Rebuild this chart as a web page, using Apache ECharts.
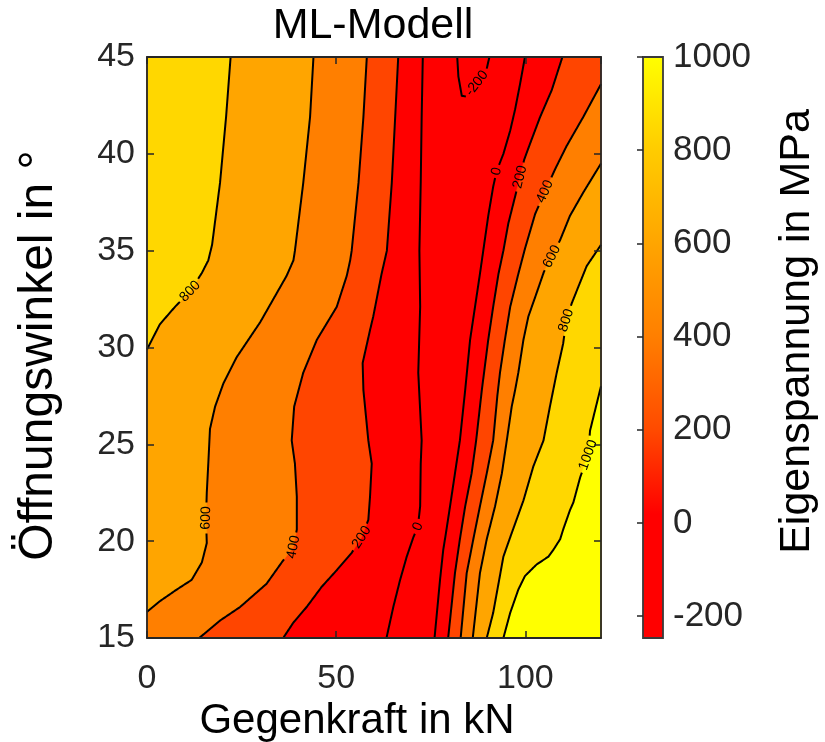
<!DOCTYPE html>
<html>
<head>
<meta charset="utf-8">
<script src="https://cdn.jsdelivr.net/npm/echarts@6/dist/echarts.min.js"></script>
<style>
  html, body { margin: 0; padding: 0; background: #fff; }
  #chart { width: 825px; height: 742px; }
</style>
</head>
<body>
<div id="chart"></div>
<script>
// contour lines as [Gegenkraft in kN, Öffnungswinkel in °]
const c800L = [[22.1,45],[20.9,41.9],[19.3,38.5],[17.2,35.3],[16.2,34.5],[14.5,33.85],[11.4,32.9],[7.4,32.1],[3.4,31.2],[0,29.9]];
const c600L = [[44.0,45],[43.1,41.9],[41.3,38.5],[39.1,35.0],[38.7,34.5],[36.9,33.7],[29.9,31.3],[23.7,29.5],[20.2,28.15],[18.0,26.95],[16.65,25.8],[16.2,24.0],[15.8,22.5],[15.6,21.2],[15.8,19.9],[14.5,18.9],[11.8,18.0],[7.85,17.5],[3.4,16.9],[0,16.35]];
const c400L = [[58.1,45],[57.2,41.9],[55.9,38.5],[54.1,35.0],[53.7,34.5],[52.8,33.7],[50.15,32.1],[44.9,30.4],[41.3,28.7],[38.9,26.95],[38.25,25.2],[39.1,24.0],[39.6,22.3],[39.6,20.6],[38.7,19.7],[35.6,18.9],[31.6,17.8],[24.6,16.6],[19.3,15.9],[13.8,15]];
const c200L = [[66.4,45],[65.6,41.9],[64.7,38.5],[63.4,35.0],[62.0,33.8],[59.8,31.6],[58.95,30.9],[57.0,29.2],[57.2,27.8],[58.5,25.2],[59.4,24.0],[58.95,22.3],[58.5,21.1],[56.75,20.2],[54.1,19.4],[50.15,18.5],[46.2,17.65],[42.2,16.6],[38.7,15.8],[36.0,15]];
const c0L = [[72.9,45],[72.6,41.9],[72.35,38.5],[72.0,35.0],[72.2,32.1],[71.7,28.7],[72.6,25.2],[72.35,24.0],[72.2,21.8],[71.6,20.75],[70.4,20.2],[68.65,19.2],[66.9,18.0],[65.1,16.6],[63.3,15]];
const cM200 = [[82.0,45],[82.3,44.0],[83.2,43.0],[84.5,42.95],[87.2,43.64],[89.8,44.4],[90.5,45]];
const c0R = [[99.9,45],[98.6,43.6],[97.3,42.3],[96.0,41.2],[94.2,40.0],[92.4,39.1],[91.5,38.3],[90.2,36.8],[89.1,35.3],[88.0,33.8],[86.7,32.1],[85.4,30.4],[84.1,27.8],[82.7,25.2],[81.4,23.5],[80.1,21.8],[79.0,20.4],[78.3,19.55],[77.45,18.0],[76.0,15]];
const c200R = [[109.8,45],[107.0,43.3],[103.9,41.9],[101.2,40.5],[99.7,39.7],[98.6,38.8],[97.3,37.8],[95.5,36.4],[94.2,35.0],[92.9,33.8],[91.5,32.1],[90.2,30.4],[88.5,27.8],[87.0,25.2],[85.8,23.5],[84.1,21.8],[82.7,20.1],[81.4,18.35],[79.6,15]];
const c400R = [[120,43.6],[115.3,41.9],[110.9,40.4],[107.85,39.2],[105.2,38.05],[102.6,36.9],[100.8,35.7],[99.9,35.1],[98.15,33.8],[96.0,32.1],[94.6,30.4],[93.3,28.7],[92.6,27.5],[91.5,25.2],[89.8,23.5],[88.0,21.8],[86.25,20.1],[84.5,18.35],[82.9,15]];
const c600R = [[120,39.5],[115.3,38.0],[111.8,36.8],[109.2,35.55],[107.0,34.7],[104.9,33.9],[102.6,32.6],[100.8,31.6],[99.5,30.4],[98.15,28.7],[97.3,27.8],[96.4,26.95],[95.1,25.2],[93.8,23.5],[92.0,21.8],[89.8,20.1],[88.0,18.35],[86.1,15]];
const c800R = [[120,35.3],[116.2,34.2],[112.3,32.3],[110.8,31.4],[110.0,30.2],[108.3,28.7],[106.5,26.95],[104.8,25.2],[102.1,23.85],[99.5,22.1],[96.0,20.2],[94.2,19.2],[92.9,17.8],[91.5,16.3],[89.8,15]];
const c1000R = [[120,28.0],[117.1,25.7],[116.6,24.45],[114.5,23.3],[112.7,22.0],[111.8,21.6],[110.0,20.6],[109.2,20.1],[107.4,19.55],[106.1,19.2],[103.0,18.8],[99.9,18.2],[98.15,17.5],[96.0,16.3],[94.2,15]];

const allLines = [c800L, c600L, c400L, c200L, c0L, cM200, c0R, c200R, c400R, c600R, c800R, c1000R];

// contour labels
const labelTexts = ['800', '600', '400', '200', '0', '-200', '0', '200', '400', '600', '800', '1000'];
const labelLines = [c800L, c600L, c400L, c200L, c0L, cM200, c0R, c200R, c400R, c600R, c800R, c1000R];
const labelAt = [[11.4,32.9],[15.6,21.2],[38.7,19.7],[56.75,20.2],[71.6,20.75],[87.2,43.64],[92.4,39.1],[98.6,38.8],[105.2,38.05],[107.0,34.7],[110.8,31.4],[116.6,24.45]];

// colorbar
const cbMin = -247, cbMax = 1000;
const cbTicks = [-200, 0, 200, 400, 600, 800, 1000];

const RED = '#ff0000', ORANGERED = '#ff4500', DARKORANGE = '#ff7f00',
      ORANGE = '#ffa500', GOLD = '#ffd700', YELLOW = '#ffff00';

// filled regions, painted from low to high level
const fills = [
    {pts: [[0,15],[120,15],[120,45],[0,45]], color: RED},
    {pts: c200L.concat([[0,15],[0,45]]), color: ORANGERED},
    {pts: c400L.concat([[0,15],[0,45]]), color: DARKORANGE},
    {pts: c600L.concat([[0,45]]), color: ORANGE},
    {pts: c800L.concat([[0,45]]), color: GOLD},
    {pts: c200R.concat([[120,15],[120,45]]), color: ORANGERED},
    {pts: c400R.concat([[120,15]]), color: DARKORANGE},
    {pts: c600R.concat([[120,15]]), color: ORANGE},
    {pts: c800R.concat([[120,15]]), color: GOLD},
    {pts: c1000R.concat([[120,15]]), color: YELLOW},
];

const FONT = '"Liberation Sans", Arial, Helvetica, sans-serif';
const AXIS_COLOR = '#262626';
const LABEL_SIZE = 14;

function cbOff(v) { return (v - cbMin) / (cbMax - cbMin); }

function labelAngle(api, line, at) {
    const p = api.coord(at);
    let best = Infinity, ang = 0;
    for (let i = 0; i < line.length - 1; i++) {
        const a = api.coord(line[i]), b = api.coord(line[i + 1]);
        const mx = (a[0] + b[0]) / 2, my = (a[1] + b[1]) / 2;
        const d = Math.hypot(mx - p[0], my - p[1]);
        if (d < best) {
            best = d;
            ang = Math.atan2(-(b[1] - a[1]), b[0] - a[0]);
        }
    }
    if (ang > Math.PI / 2) ang -= Math.PI;
    if (ang <= -Math.PI / 2) ang += Math.PI;
    return ang;
}

// width of a label, roughly, for the gap in the line
function labelHalf(t) {
    let w = 0;
    for (const ch of t) w += (ch === '-' ? 0.333 : 0.556) * LABEL_SIZE;
    return w / 2 + 3;
}

// cut the pixel polyline where labels sit
function splitLine(px, holes) {
    const out = [];
    let cur = [];
    for (let i = 0; i < px.length - 1; i++) {
        const a = px[i], b = px[i + 1];
        const n = Math.max(1, Math.ceil(Math.hypot(b[0] - a[0], b[1] - a[1])));
        for (let k = (i === 0 ? 0 : 1); k <= n; k++) {
            const t = k / n;
            const p = [a[0] + (b[0] - a[0]) * t, a[1] + (b[1] - a[1]) * t];
            const inside = holes.some(h => Math.hypot(p[0] - h.c[0], p[1] - h.c[1]) < h.r);
            if (inside) {
                if (cur.length > 1) out.push(cur);
                cur = [];
            } else {
                cur.push(p);
            }
        }
    }
    if (cur.length > 1) out.push(cur);
    return out;
}

const axisCommon = {
    axisLine: {show: true, onZero: false, lineStyle: {color: AXIS_COLOR, width: 1.8}},
    axisTick: {show: true, inside: true, length: 7, lineStyle: {color: AXIS_COLOR, width: 1.5}},
    splitLine: {show: false},
    z: 10,
};

const chart = echarts.init(document.getElementById('chart'), null, {renderer: 'canvas'});

const option = {
    animation: false,
    backgroundColor: '#fff',
    title: {
        text: 'ML-Modell',
        left: 368, top: 0, textAlign: 'center',
        textStyle: {fontFamily: FONT, fontSize: 43, fontWeight: 'normal', color: '#000'}
    },
    grid: [
        {left: 147, top: 57, width: 454, height: 581, outerBoundsMode: 'none'},
        {left: 643, top: 57, width: 20, height: 581, outerBoundsMode: 'none'},
    ],
    xAxis: [
        Object.assign({}, axisCommon, {
            gridIndex: 0, type: 'value', min: 0, max: 120, interval: 50,
            axisLabel: {fontFamily: FONT, fontSize: 34, color: AXIS_COLOR, margin: 24, showMaxLabel: false},
            name: 'Gegenkraft in kN', nameLocation: 'middle', nameGap: 60,
            nameTextStyle: {fontFamily: FONT, fontSize: 42, color: '#000', padding: [0, 34, 0, 0]}
        }),
        Object.assign({}, axisCommon, {
            gridIndex: 0, type: 'value', position: 'top', min: 0, max: 120, interval: 50,
            axisLabel: {show: false}
        }),
        {gridIndex: 1, type: 'value', min: 0, max: 1, show: false},
    ],
    yAxis: [
        Object.assign({}, axisCommon, {
            gridIndex: 0, type: 'value', min: 15, max: 45, interval: 5,
            axisLabel: {fontFamily: FONT, fontSize: 34, color: AXIS_COLOR, margin: 12, padding: [5, 0, 0, 0]},
            name: 'Öffnungswinkel in °', nameLocation: 'middle', nameGap: 84, nameRotate: 90,
            nameTextStyle: {fontFamily: FONT, fontSize: 48, color: '#000', padding: [0, 16, 0, 0]}
        }),
        Object.assign({}, axisCommon, {
            gridIndex: 0, type: 'value', position: 'right', min: 15, max: 45, interval: 5,
            axisLabel: {show: false}
        }),
        {
            gridIndex: 1, type: 'value', position: 'right', min: cbMin, max: cbMax,
            axisLine: {show: false},
            axisTick: {show: true, inside: true, length: 6, customValues: cbTicks,
                       lineStyle: {color: AXIS_COLOR, width: 1.5}},
            axisLabel: {fontFamily: FONT, fontSize: 35, color: AXIS_COLOR, margin: 10,
                        padding: [5, 0, 0, 0],
                        customValues: cbTicks, formatter: v => String(v)},
            splitLine: {show: false},
            name: 'Eigenspannung in MPa', nameLocation: 'middle', nameGap: 113, nameRotate: 90,
            nameTextStyle: {fontFamily: FONT, fontSize: 43, color: '#000', padding: [0, 0, 0, 32]},
            z: 10
        },
    ],
    series: [
        {
            type: 'custom', name: 'fill', xAxisIndex: 0, yAxisIndex: 0, silent: true,
            data: fills.map((f, i) => [i]),
            renderItem: function (params, api) {
                const f = fills[params.dataIndex];
                return {
                    type: 'polygon',
                    shape: {points: f.pts.map(p => api.coord(p))},
                    style: {fill: f.color, stroke: f.color, lineWidth: 0.5}
                };
            }
        },
        {
            type: 'custom', name: 'lines', xAxisIndex: 0, yAxisIndex: 0, silent: true, z: 3,
            data: allLines.map((l, i) => [i]),
            renderItem: function (params, api) {
                const line = allLines[params.dataIndex];
                const holes = [];
                labelLines.forEach((l, j) => {
                    if (l === line) holes.push({c: api.coord(labelAt[j]), r: labelHalf(labelTexts[j])});
                });
                const parts = splitLine(line.map(p => api.coord(p)), holes);
                return {
                    type: 'group',
                    children: parts.map(pts => ({
                        type: 'polyline',
                        shape: {points: pts},
                        style: {stroke: '#000', lineWidth: 2, fill: null}
                    }))
                };
            }
        },
        {
            type: 'custom', name: 'labels', xAxisIndex: 0, yAxisIndex: 0, silent: true, z: 4,
            data: labelTexts.map((t, i) => [i]),
            renderItem: function (params, api) {
                const i = params.dataIndex;
                const p = api.coord(labelAt[i]);
                return {
                    type: 'text',
                    x: p[0], y: p[1],
                    rotation: labelAngle(api, labelLines[i], labelAt[i]),
                    style: {
                        text: labelTexts[i], x: 0, y: 0,
                        align: 'center', verticalAlign: 'middle',
                        font: LABEL_SIZE + 'px ' + FONT, fill: '#000'
                    }
                };
            }
        },
        {
            type: 'custom', name: 'colorbar', xAxisIndex: 2, yAxisIndex: 2, silent: true,
            data: [[0]],
            renderItem: function (params, api) {
                const tl = api.coord([0, cbMax]);
                const br = api.coord([1, cbMin]);
                return {
                    type: 'rect',
                    shape: {x: tl[0], y: tl[1], width: br[0] - tl[0], height: br[1] - tl[1]},
                    style: {
                        fill: {
                            type: 'linear', x: 0, y: 1, x2: 0, y2: 0,
                            colorStops: [
                                {offset: 0, color: '#ff0000'},
                                {offset: cbOff(20), color: '#ff0000'},
                                {offset: cbOff(200), color: '#ff4a00'},
                                {offset: cbOff(400), color: '#ff7f00'},
                                {offset: cbOff(600), color: '#ffa500'},
                                {offset: cbOff(800), color: '#ffcc00'},
                                {offset: 1, color: '#ffff00'}
                            ]
                        },
                        stroke: '#3a3a3a', lineWidth: 1.8
                    }
                };
            }
        },
    ]
};

chart.setOption(option);
</script>
</body>
</html>
